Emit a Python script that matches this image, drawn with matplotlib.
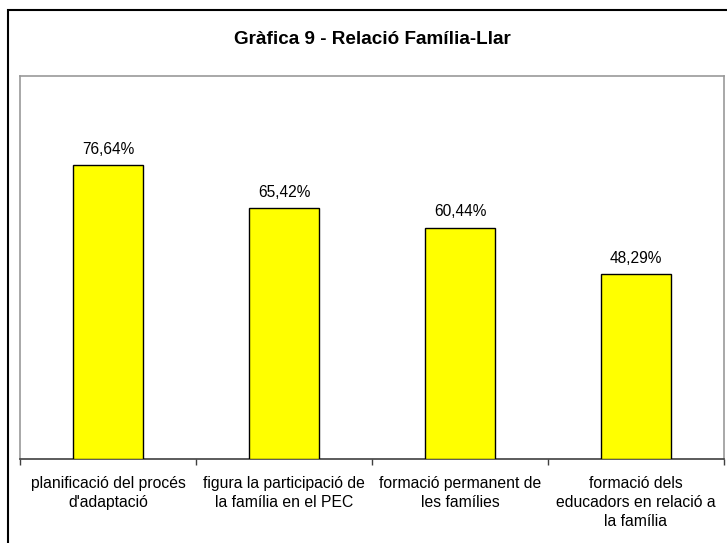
import matplotlib.pyplot as plt
from matplotlib.patches import Rectangle
import numpy as np

plt.rcParams['font.family'] = ['Liberation Sans', 'DejaVu Sans']

# Data
categories = ["planificació del procés\nd'adaptació",
              "figura la participació de\nla família en el PEC",
              "formació permanent de\nles famílies",
              "formació dels\neducadors en relació a\nla família"]
values = [76.64, 65.42, 60.44, 48.29]
value_labels = ["76,64%", "65,42%", "60,44%", "48,29%"]
title = "Gràfica 9 - Relació Família-Llar"

fig = plt.figure(figsize=(7.27, 5.43), dpi=100)
ax = fig.add_axes([20 / 727, 1 - 459 / 543, 704 / 727, 383 / 543])

x = np.arange(len(values))
ax.bar(x, values, width=0.4, color='#FFFF00', edgecolor='black', linewidth=1.0, zorder=3)

for xi, v, lab in zip(x, values, value_labels):
    ax.annotate(lab, (xi, v), xytext=(0, 6), textcoords='offset points',
                ha='center', va='bottom', fontsize=11.2, color='black')

ax.set_xlim(-0.5, len(values) - 0.5)
ax.set_ylim(0, 100)
ax.set_yticks([])

# boundaries get the tick marks, centers carry the labels
ax.set_xticks(np.arange(len(values) + 1) - 0.5)
ax.set_xticklabels([])
ax.tick_params(axis='x', which='major', length=4, width=1, color='#404040', direction='out')
ax.set_xticks(x, minor=True)
ax.set_xticklabels(categories, minor=True, fontsize=11.3, linespacing=1.3)
ax.tick_params(axis='x', which='minor', length=0, pad=12.5)

for side in ['left', 'right', 'top']:
    ax.spines[side].set_color('#999999')
    ax.spines[side].set_linewidth(1.2)
ax.spines['bottom'].set_color('#404040')
ax.spines['bottom'].set_linewidth(1.2)

fig.text(372 / 727, 1 - 39 / 543, title, ha='center', va='center',
         fontsize=13.6, fontweight='bold')

# outer chart border (runs off the right and bottom of the picture)
fig.patches.append(Rectangle((7.5 / 727, -0.1), 1.2, 1.1 - 10 / 543,
                             transform=fig.transFigure, fill=False,
                             edgecolor='black', linewidth=1.5))

fig.savefig('out.png', dpi=100)
